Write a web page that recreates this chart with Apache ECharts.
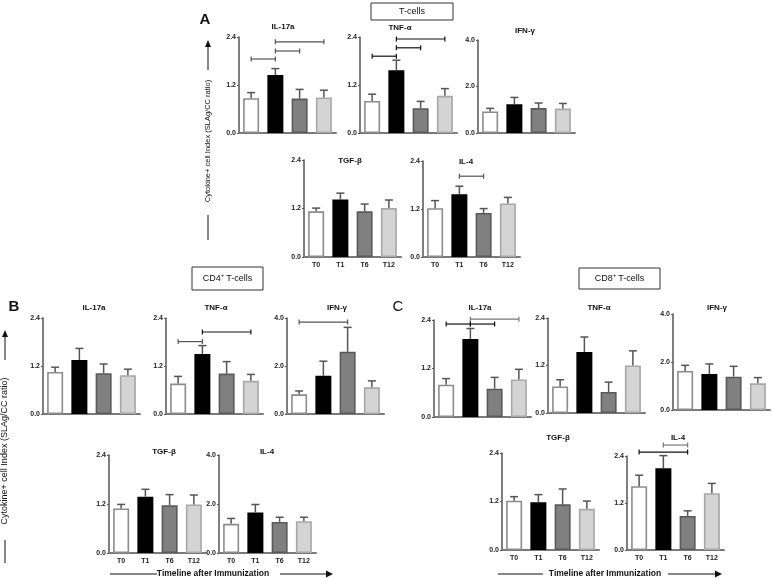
<!DOCTYPE html>
<html><head><meta charset="utf-8">
<script src="https://cdn.jsdelivr.net/npm/echarts@6/dist/echarts.min.js"></script>
<style>html,body{margin:0;padding:0;background:#fff}#c{width:772px;height:578px}</style>
</head><body><div id="c"></div>
<script>
const categories = ['T0','T1','T6','T12'];

// Panel A: T-cells (mean, SEM)
const A_IL17a = [0.87, 1.45, 0.86, 0.89];  const A_IL17a_sem = [0.14, 0.16, 0.23, 0.18];
const A_TNFa  = [0.80, 1.57, 0.62, 0.93];  const A_TNFa_sem  = [0.17, 0.25, 0.17, 0.18];
const A_IFNg  = [0.93, 1.24, 1.07, 1.05];  const A_IFNg_sem  = [0.13, 0.29, 0.22, 0.22];
const A_TGFb  = [1.13, 1.42, 1.13, 1.21];  const A_TGFb_sem  = [0.08, 0.16, 0.18, 0.20];
const A_IL4   = [1.22, 1.57, 1.10, 1.34];  const A_IL4_sem   = [0.19, 0.20, 0.11, 0.15];
// Panel B: CD4+ T-cells
const B_IL17a = [1.05, 1.35, 1.02, 0.97];  const B_IL17a_sem = [0.12, 0.29, 0.23, 0.15];
const B_TNFa  = [0.76, 1.50, 1.01, 0.83];  const B_TNFa_sem  = [0.18, 0.21, 0.30, 0.16];
const B_IFNg  = [0.82, 1.59, 2.59, 1.11];  const B_IFNg_sem  = [0.14, 0.61, 1.02, 0.27];
const B_TGFb  = [1.09, 1.38, 1.17, 1.19];  const B_TGFb_sem  = [0.10, 0.18, 0.26, 0.23];
const B_IL4   = [1.19, 1.65, 1.27, 1.30];  const B_IL4_sem   = [0.22, 0.33, 0.19, 0.16];
// Panel C: CD8+ T-cells
const C_IL17a = [0.80, 1.93, 0.70, 0.93];  const C_IL17a_sem = [0.15, 0.26, 0.28, 0.25];
const C_TNFa  = [0.67, 1.54, 0.53, 1.20];  const C_TNFa_sem  = [0.17, 0.38, 0.25, 0.37];
const C_IFNg  = [1.63, 1.50, 1.39, 1.11];  const C_IFNg_sem  = [0.23, 0.42, 0.43, 0.24];
const C_TGFb  = [1.22, 1.18, 1.13, 1.02];  const C_TGFb_sem  = [0.10, 0.19, 0.38, 0.19];
const C_IL4   = [1.63, 2.09, 0.87, 1.45];  const C_IL4_sem   = [0.28, 0.32, 0.13, 0.25];

// Significance brackets: [fromIndex, toIndex, height]
const A_IL17a_sig = [[0,1,1.85],[1,2,2.05],[1,3,2.28]];
const A_TNFa_sig  = [[0,1,1.92],[1,2,2.13],[1,3,2.35]];
const A_IL4_sig   = [[1,2,2.02]];
const B_TNFa_sig  = [[0,1,1.81],[1,3,2.05]];
const B_IFNg_sig  = [[0,2,3.83]];
const C_IL17a_sig = [[0,1,2.30],[1,2,2.30],[1,3,2.42]];
const C_IL4_sig   = [[0,2,2.50],[1,2,2.68]];

const barFill   = ['#ffffff','#000000','#808080','#d4d4d4'];
const barBorder = ['#8c8c8c','#000000','#5a5a5a','#a8a8a8'];
const FONT = 'Liberation Sans, Arial, sans-serif';

// layout: grid [left, top, width, height], title centre, bracket colours
const panels = [
  {m:A_IL17a, e:A_IL17a_sem, s:A_IL17a_sig, sc:['#555','#555','#555'], max:2.4, title:'IL-17a', g:[239,37,97,96], t:[283,27], xl:false},
  {m:A_TNFa,  e:A_TNFa_sem,  s:A_TNFa_sig,  sc:['#111','#111','#111'], max:2.4, title:'TNF-α',  g:[360,37,97,96], t:[400,28], xl:false},
  {m:A_IFNg,  e:A_IFNg_sem,  s:null, max:4.0, title:'IFN-γ',  g:[478,40,97,93], t:[525,31], xl:false},
  {m:A_TGFb,  e:A_TGFb_sem,  s:null, max:2.4, title:'TGF-β',  g:[304,160,97,97], t:[350,161], xl:true},
  {m:A_IL4,   e:A_IL4_sem,   s:A_IL4_sig, sc:['#555'], max:2.4, title:'IL-4', g:[423,161,97,96], t:[466,162], xl:true},

  {m:B_IL17a, e:B_IL17a_sem, s:null, max:2.4, title:'IL-17a', g:[43,318,97,96], t:[94,308], xl:false},
  {m:B_TNFa,  e:B_TNFa_sem,  s:B_TNFa_sig, sc:['#555','#111'], max:2.4, title:'TNF-α', g:[166,318,97,96], t:[216,308], xl:false},
  {m:B_IFNg,  e:B_IFNg_sem,  s:B_IFNg_sig, sc:['#555'], max:4.0, title:'IFN-γ', g:[287,318,97,96], t:[337,308], xl:false},
  {m:B_TGFb,  e:B_TGFb_sem,  s:null, max:2.4, title:'TGF-β', g:[109,455,97,98], t:[164,452], xl:true},
  {m:B_IL4,   e:B_IL4_sem,   s:null, max:4.0, title:'IL-4',  g:[219,455,97,98], t:[267,452], xl:true},

  {m:C_IL17a, e:C_IL17a_sem, s:C_IL17a_sig, sc:['#111','#111','#777'], max:2.4, title:'IL-17a', g:[434,320,97,97], t:[480,308], xl:false},
  {m:C_TNFa,  e:C_TNFa_sem,  s:null, max:2.4, title:'TNF-α', g:[548,318,97,95], t:[599,308], xl:false},
  {m:C_IFNg,  e:C_IFNg_sem,  s:null, max:4.0, title:'IFN-γ', g:[673,314,97,96], t:[717,308], xl:false},
  {m:C_TGFb,  e:C_TGFb_sem,  s:null, max:2.4, title:'TGF-β', g:[502,453,97,97], t:[558,438], xl:true},
  {m:C_IL4,   e:C_IL4_sem,   s:C_IL4_sig, sc:['#111','#777'], max:2.4, title:'IL-4', g:[627,456,97,94], t:[678,438], xl:true}
];

const grid = [], xAxis = [], yAxis = [], series = [], graphic = [];

function errRender(params, api){
  const m = api.value(1), s = api.value(2);
  const p0 = api.coord([api.value(0), m]);
  const p1 = api.coord([api.value(0), m + s]);
  const st = {stroke:'#555', lineWidth:1.5};
  return {type:'group', children:[
    {type:'line', shape:{x1:p0[0], y1:p0[1], x2:p1[0], y2:p1[1]}, style:st},
    {type:'line', shape:{x1:p1[0]-4, y1:p1[1], x2:p1[0]+4, y2:p1[1]}, style:st}
  ]};
}
function sigRender(colors){
  return function(params, api){
    const a = api.coord([api.value(0), api.value(2)]);
    const b = api.coord([api.value(1), api.value(2)]);
    const st = {stroke: colors[params.dataIndex] || '#333', lineWidth:1.2};
    return {type:'group', children:[
      {type:'line', shape:{x1:a[0], y1:a[1], x2:b[0], y2:b[1]}, style:st},
      {type:'line', shape:{x1:a[0], y1:a[1]-2.5, x2:a[0], y2:a[1]+2.5}, style:st},
      {type:'line', shape:{x1:b[0], y1:b[1]-2.5, x2:b[0], y2:b[1]+2.5}, style:st}
    ]};
  };
}

panels.forEach((p, i) => {
  grid.push({left:p.g[0], top:p.g[1], width:p.g[2], height:p.g[3], containLabel:false, outerBoundsMode:'none'});
  xAxis.push({
    gridIndex:i, type:'category', data:categories,
    axisLine:{show:true, lineStyle:{color:'#7a7a7a', width:2}},
    axisTick:{show:false},
    axisLabel:{show:p.xl, fontSize:7, fontWeight:'bold', color:'#222', margin:5, fontFamily:FONT}
  });
  yAxis.push({
    gridIndex:i, type:'value', min:0, max:p.max, interval:p.max/2,
    axisLine:{show:true, lineStyle:{color:'#555', width:1.5}},
    axisTick:{show:true, length:2, lineStyle:{color:'#555', width:1}},
    splitLine:{show:false},
    axisLabel:{fontSize:7, fontWeight:'bold', color:'#222', margin:3, fontFamily:FONT,
               formatter: v => v.toFixed(1)}
  });
  series.push({
    type:'bar', xAxisIndex:i, yAxisIndex:i, barWidth:16, silent:true, animation:false,
    data: p.m.map((v, k) => ({value:v, itemStyle:{color:barFill[k], borderColor:barBorder[k], borderWidth:1.6}}))
  });
  series.push({
    type:'custom', xAxisIndex:i, yAxisIndex:i, renderItem:errRender, silent:true, animation:false, z:5,
    encode:{x:0, y:1}, clip:false,
    data: p.m.map((v, k) => [categories[k], v, p.e[k]])
  });
  if (p.s) {
    series.push({
      type:'custom', xAxisIndex:i, yAxisIndex:i, renderItem:sigRender(p.sc), silent:true, animation:false, z:6,
      encode:{x:[0,1], y:2}, clip:false,
      data: p.s.map(b => [b[0], b[1], b[2]])
    });
  }
  graphic.push({type:'text', x:p.t[0], y:p.t[1], style:{text:p.title, font:'bold 8px ' + FONT, fill:'#111', align:'center', verticalAlign:'middle'}});
});

// panel letters
graphic.push({type:'text', x:205, y:20, style:{text:'A', font:'bold 15px ' + FONT, fill:'#111', align:'center', verticalAlign:'middle'}});
graphic.push({type:'text', x:14, y:307, style:{text:'B', font:'bold 15px ' + FONT, fill:'#111', align:'center', verticalAlign:'middle'}});
graphic.push({type:'text', x:398, y:307, style:{text:'C', font:'15px ' + FONT, fill:'#111', align:'center', verticalAlign:'middle'}});

// header boxes
function box(x, y, w, h, text){
  graphic.push({type:'rect', shape:{x:x, y:y, width:w, height:h}, style:{fill:'#fff', stroke:'#333', lineWidth:1}});
  graphic.push({type:'text', x:x + w/2, y:y + h/2, style:{text:text, font:'9px ' + FONT, fill:'#111', align:'center', verticalAlign:'middle'}});
}
box(371, 3, 82, 17, 'T-cells');
box(192, 267, 71, 23, 'CD4⁺ T-cells');
box(579, 268, 81, 21, 'CD8⁺ T-cells');

// y-axis titles with arrows
function yTitle(x, yA1, yA2, yc, yL1, yL2, size){
  graphic.push({type:'line', shape:{x1:x, y1:yA2, x2:x, y2:yA1 + 5}, style:{stroke:'#111', lineWidth:1}});
  graphic.push({type:'polygon', shape:{points:[[x, yA1], [x-3, yA1+7], [x+3, yA1+7]]}, style:{fill:'#111'}});
  graphic.push({type:'text', x:x, y:yc, rotation:Math.PI/2,
    style:{text:'Cytokine+ cell Index (SLAg/CC ratio)', font:size + 'px ' + FONT, fill:'#111', align:'center', verticalAlign:'middle'}});
  graphic.push({type:'line', shape:{x1:x, y1:yL1, x2:x, y2:yL2}, style:{stroke:'#111', lineWidth:1}});
}
yTitle(208, 40, 70, 141, 215, 240, 7.5);
yTitle(5, 330, 360, 451, 540, 563, 9);

// timeline arrows
function timeline(xc, y, l1, l2, a1, a2){
  graphic.push({type:'line', shape:{x1:l1, y1:y, x2:l2, y2:y}, style:{stroke:'#111', lineWidth:1}});
  graphic.push({type:'line', shape:{x1:a1, y1:y, x2:a2 - 5, y2:y}, style:{stroke:'#111', lineWidth:1}});
  graphic.push({type:'polygon', shape:{points:[[a2, y], [a2-7, y-3.5], [a2-7, y+3.5]]}, style:{fill:'#111'}});
  graphic.push({type:'text', x:xc, y:y, style:{text:'Timeline after Immunization', font:'bold 8.5px ' + FONT, fill:'#111', align:'center', verticalAlign:'middle'}});
}
timeline(213, 574, 110, 157, 280, 333);
timeline(605, 574, 498, 543, 668, 722);

const chart = echarts.init(document.getElementById('c'), null, {renderer:'canvas'});
chart.setOption({animation:false, backgroundColor:'#fff', grid, xAxis, yAxis, series, graphic});
</script></body></html>
